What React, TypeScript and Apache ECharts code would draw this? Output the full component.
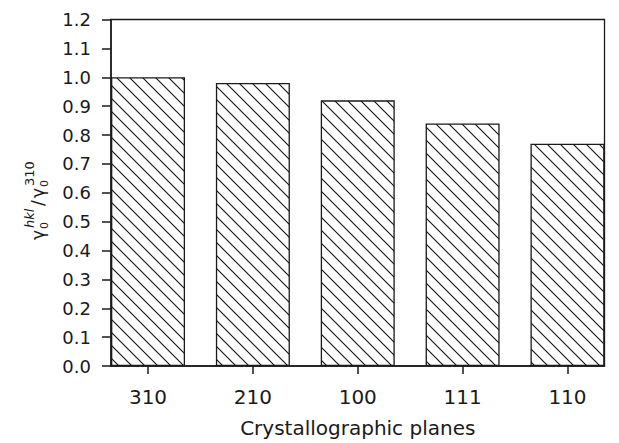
import React, { useEffect, useRef } from "react";
import * as echarts from "echarts";

// Data
const categories = ["310", "210", "100", "111", "110"];
const ratios = [1.0, 0.98, 0.92, 0.84, 0.77];
const positions = [1, 2, 3, 4, 5];
const yMin = 0;
const yMax = 1.2;
const yStep = 0.1;

const FONT = "'DejaVu Sans', 'Liberation Sans', Arial, sans-serif";
const INK = "#1a1a1a";

function makeHatch(): HTMLCanvasElement {
  const s = 13;
  const c = document.createElement("canvas");
  c.width = s;
  c.height = s;
  const ctx = c.getContext("2d")!;
  ctx.fillStyle = "#ffffff";
  ctx.fillRect(0, 0, s, s);
  ctx.strokeStyle = "#111111";
  ctx.lineWidth = 1.1;
  for (const k of [-s, 0, s]) {
    ctx.beginPath();
    ctx.moveTo(k - 1, -1);
    ctx.lineTo(k + s + 1, s + 1);
    ctx.stroke();
  }
  return c;
}

export default function App() {
  const ref = useRef<HTMLDivElement>(null);

  useEffect(() => {
    if (!ref.current) return;
    const chart = echarts.init(ref.current, undefined, { renderer: "svg" });
    const hatch = makeHatch();

    const mainSize = 17;
    const supSize = 13;
    const subSize = 11;
    const labelText = (text: string, x: number, y: number, size: number, italic = false) => ({
      type: "text",
      x,
      y,
      style: {
        text,
        fill: INK,
        font: `${italic ? "italic " : ""}${size}px ${FONT}`,
        align: "left",
        verticalAlign: "middle",
      },
    });

    chart.setOption({
      animation: false,
      backgroundColor: "#ffffff",
      grid: {
        left: 111,
        right: 14.5,
        top: 19.5,
        bottom: 73.7,
        show: true,
        borderColor: INK,
        borderWidth: 1.3,
        backgroundColor: "transparent",
      },
      xAxis: {
        type: "value",
        min: 0.647,
        max: 5.353,
        axisLine: { show: true, onZero: false, lineStyle: { color: INK, width: 1.5 } },
        axisTick: {
          show: true,
          customValues: positions,
          length: 8,
          inside: false,
          lineStyle: { color: INK, width: 1.5 },
        },
        axisLabel: {
          customValues: positions,
          formatter: (v: number) => categories[Math.round(v) - 1] ?? "",
          fontSize: 20,
          fontFamily: FONT,
          color: INK,
          margin: 21,
        },
        splitLine: { show: false },
        name: "Crystallographic planes",
        nameLocation: "middle",
        nameGap: 52,
        nameTextStyle: { fontSize: 20, fontFamily: FONT, color: INK },
      },
      yAxis: {
        type: "value",
        min: yMin,
        max: yMax,
        interval: yStep,
        axisLine: { show: true, lineStyle: { color: INK, width: 1.5 } },
        axisTick: { show: true, length: 9, inside: false, lineStyle: { color: INK, width: 1.5 } },
        axisLabel: {
          formatter: (v: number) => v.toFixed(1),
          fontSize: 18,
          fontFamily: FONT,
          color: INK,
          margin: 20,
        },
        splitLine: { show: false },
      },
      series: [
        {
          type: "bar",
          data: positions.map((p, i) => [p, ratios[i]]),
          barWidth: 74,
          itemStyle: {
            color: { image: hatch, repeat: "repeat" },
            borderColor: INK,
            borderWidth: 1.3,
          },
        },
      ],
      graphic: [
        {
          type: "group",
          x: 38,
          y: 240,
          rotation: Math.PI / 2,
          children: [
            labelText("γ", 0, 0, mainSize),
            labelText("0", 11, 6, subSize),
            labelText("hkl", 12, -9, supSize, true),
            labelText("/", 34, 0, mainSize),
            labelText("γ", 42, 0, mainSize),
            labelText("0", 53, 6, subSize),
            labelText("310", 54, -9, supSize),
          ],
        },
      ],
    });

    return () => chart.dispose();
  }, []);

  return (
    <div
      ref={ref}
      style={{ position: "fixed", left: 0, top: 0, width: 619, height: 443, background: "#fff" }}
    />
  );
}
